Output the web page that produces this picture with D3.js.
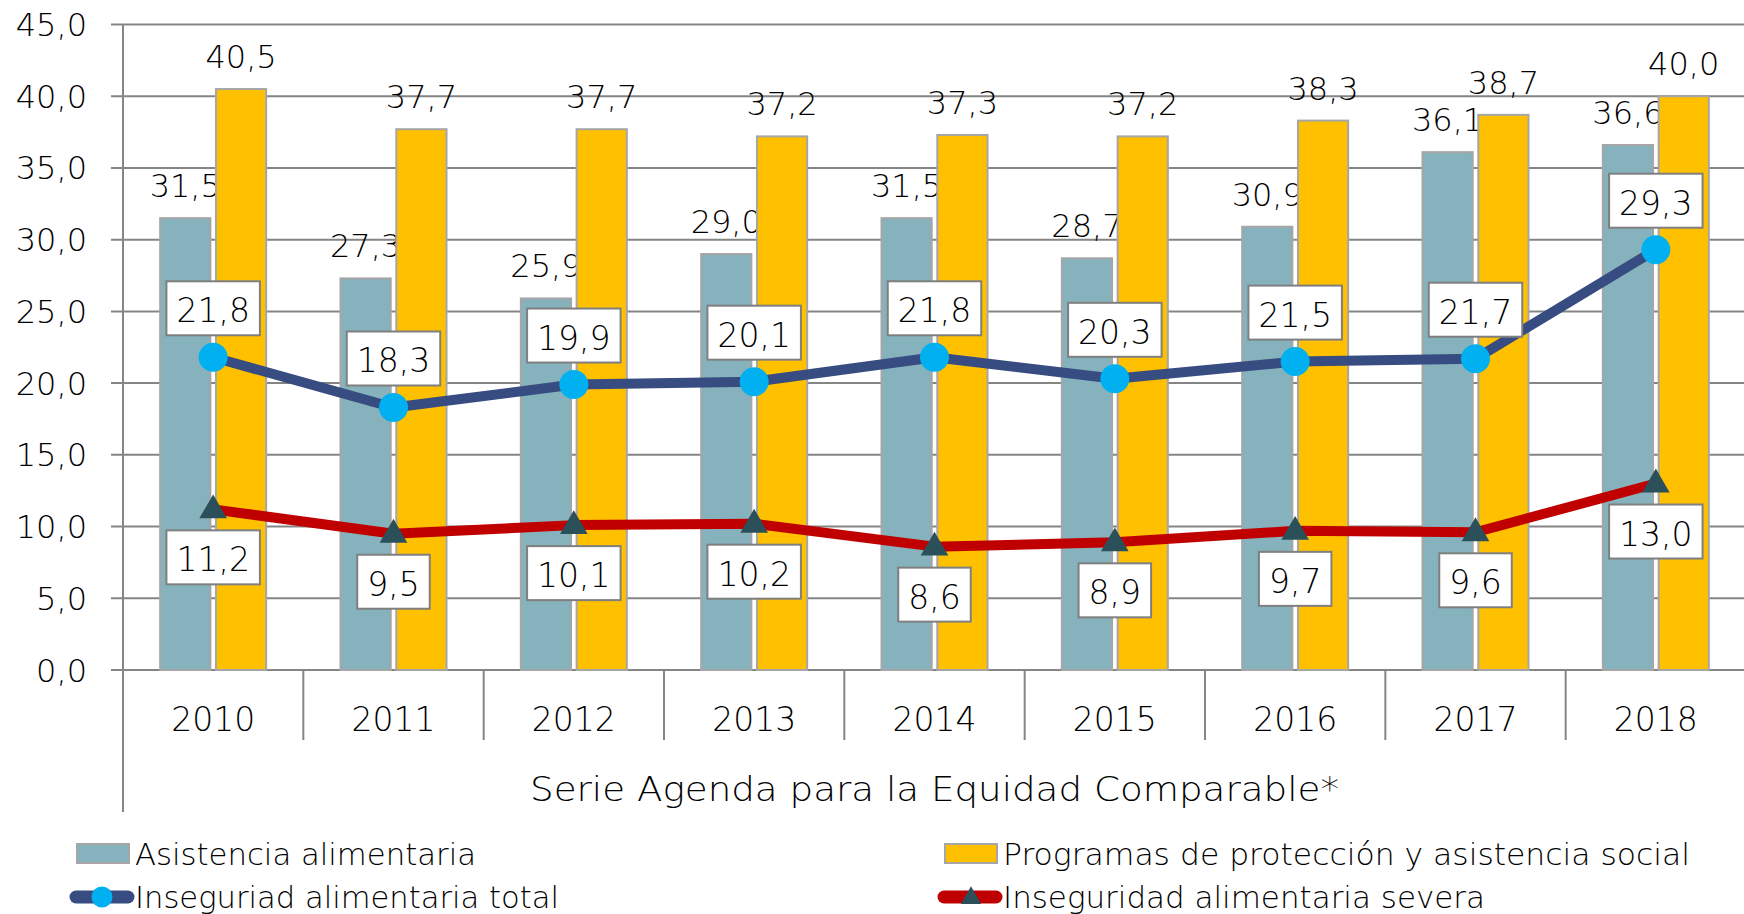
<!DOCTYPE html>
<html>
<head>
<meta charset="utf-8">
<script src="https://cdn.jsdelivr.net/npm/d3@7"></script>
<style>
  body { margin: 0; background: #fff; }
  text { font-family: "DejaVu Sans", sans-serif; font-weight: 200; fill: #000; }
</style>
</head>
<body>
<div id="chart"></div>
<script>
const years = ["2010", "2011", "2012", "2013", "2014", "2015", "2016", "2017", "2018"];
const asistencia = [31.5, 27.3, 25.9, 29.0, 31.5, 28.7, 30.9, 36.1, 36.6];
const programas = [40.5, 37.7, 37.7, 37.2, 37.3, 37.2, 38.3, 38.7, 40.0];
const insegTotal = [21.8, 18.3, 19.9, 20.1, 21.8, 20.3, 21.5, 21.7, 29.3];
const insegSevera = [11.2, 9.5, 10.1, 10.2, 8.6, 8.9, 9.7, 9.6, 13.0];
const yTicks = [0, 5, 10, 15, 20, 25, 30, 35, 40, 45];
const axisTitle = "Serie Agenda para la Equidad Comparable*";
const seriesNames = [
  "Asistencia alimentaria",
  "Programas de protección y asistencia social",
  "Inseguriad alimentaria total",
  "Inseguridad alimentaria severa"
];

const width = 1744;
const height = 914;

const colors = {
  asistencia: "#85B2BC",
  programas: "#FFC000",
  total: "#374C80",
  totalMarker: "#00B0F0",
  severa: "#C00000",
  severaMarker: "#2C5059",
  grid: "#858585",
  barStroke: "#A6A6A6"
};

const fmt = d3.formatLocale({ decimal: ",", thousands: ".", grouping: [3], currency: ["", ""] }).format(".1f");

const svg = d3.select("#chart")
  .append("svg")
  .attr("width", width)
  .attr("height", height);

const x = d3.scaleBand()
  .domain(years)
  .range([123, 1746])
  .padding(0);

const y = d3.scaleLinear()
  .domain([0, 45])
  .range([670, 24.5]);

const inner = d3.scaleBand()
  .domain(["a", "p"])
  .range([-53, 53])
  .paddingInner(0.1);

const cx = d => x(d) + x.bandwidth() / 2;

// gridlines
svg.append("g")
  .selectAll("line")
  .data(yTicks)
  .join("line")
  .attr("x1", 111)
  .attr("x2", width + 2)
  .attr("y1", d => y(d))
  .attr("y2", d => y(d))
  .attr("stroke", colors.grid)
  .attr("stroke-width", 2);

// y axis labels
svg.append("g")
  .selectAll("text")
  .data(yTicks)
  .join("text")
  .attr("x", 87)
  .attr("y", d => y(d))
  .attr("dy", "0.36em")
  .attr("text-anchor", "end")
  .attr("font-size", 32)
  .text(d => fmt(d));

// y axis line
svg.append("line")
  .attr("x1", 123).attr("x2", 123)
  .attr("y1", y(45)).attr("y2", 812)
  .attr("stroke", colors.grid)
  .attr("stroke-width", 2);

// category separators
svg.append("g")
  .selectAll("line")
  .data(years.slice(1))
  .join("line")
  .attr("x1", d => x(d)).attr("x2", d => x(d))
  .attr("y1", y(0)).attr("y2", 740)
  .attr("stroke", colors.grid)
  .attr("stroke-width", 2);

// year labels
svg.append("g")
  .selectAll("text")
  .data(years)
  .join("text")
  .attr("x", d => cx(d))
  .attr("y", 731)
  .attr("text-anchor", "middle")
  .attr("font-size", 33)
  .text(d => d);

svg.append("text")
  .attr("x", (123 + 1746) / 2)
  .attr("y", 801)
  .attr("text-anchor", "middle")
  .attr("font-size", 34)
  .attr("textLength", 809)
  .attr("lengthAdjust", "spacingAndGlyphs")
  .text(axisTitle);

// bars
const barSeries = [
  { key: "a", values: asistencia, color: colors.asistencia },
  { key: "p", values: programas, color: colors.programas }
];

barSeries.forEach(s => {
  const g = svg.append("g");
  g.selectAll("rect")
    .data(years)
    .join("rect")
    .attr("x", d => cx(d) + inner(s.key))
    .attr("width", inner.bandwidth())
    .attr("y", (d, i) => y(s.values[i]))
    .attr("height", (d, i) => y(0) - y(s.values[i]))
    .attr("fill", s.color)
    .attr("stroke", colors.barStroke)
    .attr("stroke-width", 2);

  g.selectAll("text")
    .data(years)
    .join("text")
    .attr("x", d => cx(d) + inner(s.key) + inner.bandwidth() / 2)
    .attr("y", (d, i) => y(s.values[i]) - 21)
    .attr("text-anchor", "middle")
    .attr("font-size", 32)
    .text((d, i) => fmt(s.values[i]));
});

// lines
const line = d3.line()
  .x(d => cx(d[0]))
  .y(d => y(d[1]));

function drawLine(values, color, markerColor, shape, labelAbove) {
  const pts = years.map((yr, i) => [yr, values[i]]);
  const g = svg.append("g");
  g.append("path")
    .datum(pts)
    .attr("d", line)
    .attr("fill", "none")
    .attr("stroke", color)
    .attr("stroke-width", 10)
    .attr("stroke-linejoin", "round");

  if (shape === "circle") {
    g.selectAll("circle")
      .data(pts)
      .join("circle")
      .attr("cx", d => cx(d[0]))
      .attr("cy", d => y(d[1]))
      .attr("r", 14.5)
      .attr("fill", markerColor);
  } else {
    g.selectAll("path.mk")
      .data(pts)
      .join("path")
      .attr("class", "mk")
      .attr("d", d3.symbol(d3.symbolTriangle, 330))
      .attr("transform", d => `translate(${cx(d[0])},${y(d[1]) + 1})`)
      .attr("fill", markerColor);
  }

  const lab = g.selectAll("g.lab")
    .data(pts)
    .join("g")
    .attr("class", "lab");

  lab.each(function (d) {
    const el = d3.select(this);
    const rect = el.append("rect");
    const t = el.append("text")
      .attr("x", cx(d[0]))
      .attr("text-anchor", "middle")
      .attr("font-size", 33)
      .text(fmt(d[1]));
    const w = t.node().getComputedTextLength() + 20;
    const h = 54;
    const top = labelAbove ? y(d[1]) - 22 - h : y(d[1]) + 21;
    rect.attr("x", cx(d[0]) - w / 2)
      .attr("y", top)
      .attr("width", w)
      .attr("height", h)
      .attr("fill", "#fff")
      .attr("stroke", "#7F7F7F")
      .attr("stroke-width", 2);
    t.attr("y", top + h - 13);
  });
}

drawLine(insegTotal, colors.total, colors.totalMarker, "circle", true);
drawLine(insegSevera, colors.severa, colors.severaMarker, "triangle", false);

// legend: two columns, two rows
const legendTypes = [
  { type: "rect", color: colors.asistencia },
  { type: "rect", color: colors.programas },
  { type: "circle", color: colors.total, marker: colors.totalMarker },
  { type: "triangle", color: colors.severa, marker: colors.severaMarker }
];
const legendColX = [77, 945];
const legendRowY = [854, 897];
const legendTextLen = [341, 687, 424, 482];

const legend = svg.append("g");
legendTypes.forEach((it, i) => {
  const lx = legendColX[i % 2];
  const ly = legendRowY[Math.floor(i / 2)];
  const g = legend.append("g");
  if (it.type === "rect") {
    g.append("rect")
      .attr("x", lx).attr("y", ly - 10)
      .attr("width", 52).attr("height", 19)
      .attr("fill", it.color)
      .attr("stroke", colors.barStroke)
      .attr("stroke-width", 2);
  } else {
    g.append("line")
      .attr("x1", lx - 1).attr("x2", lx + 51)
      .attr("y1", ly).attr("y2", ly)
      .attr("stroke", it.color)
      .attr("stroke-width", 13)
      .attr("stroke-linecap", "round");
    if (it.type === "circle") {
      g.append("circle")
        .attr("cx", lx + 25).attr("cy", ly)
        .attr("r", 10.5)
        .attr("fill", it.marker);
    } else {
      g.append("path")
        .attr("d", d3.symbol(d3.symbolTriangle, 180))
        .attr("transform", `translate(${lx + 26},${ly + 1})`)
        .attr("fill", it.marker);
    }
  }
  g.append("text")
    .attr("x", lx + 58)
    .attr("y", ly + 11)
    .attr("font-size", 30)
    .attr("textLength", legendTextLen[i])
    .attr("lengthAdjust", "spacingAndGlyphs")
    .text(seriesNames[i]);
});
</script>
</body>
</html>
